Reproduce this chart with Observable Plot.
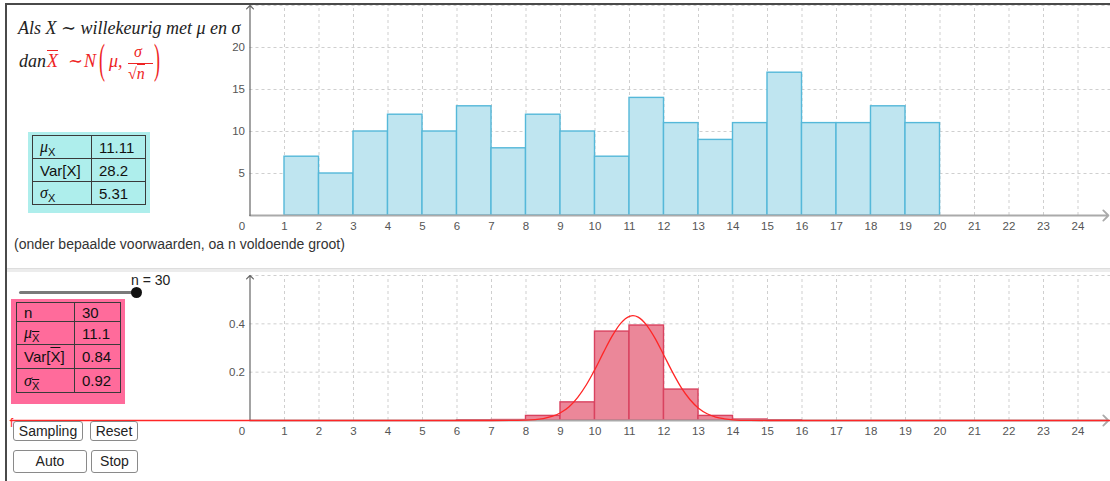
<!DOCTYPE html>
<html><head><meta charset="utf-8">
<script src="https://cdn.jsdelivr.net/npm/d3@7"></script>
<script src="https://cdn.jsdelivr.net/npm/@observablehq/plot@0.6"></script>
<style>
html,body{margin:0;padding:0;background:#fff;}
#root{position:relative;width:1110px;height:481px;overflow:hidden;background:#fff;font-family:"Liberation Sans",Arial,sans-serif;}
.abs{position:absolute;}
.plotwrap{position:absolute;left:0;}
.math{position:absolute;font-family:"Liberation Serif","DejaVu Serif",serif;font-style:italic;font-size:18px;line-height:18px;color:#222;white-space:nowrap;}
.up{font-style:normal;}
.red{color:#ee2424;}
table.st{position:absolute;border-collapse:collapse;table-layout:fixed;font-size:15px;color:#111;}
table.st td{border:1px solid #3a3a3a;padding:0 0 0 7px;white-space:nowrap;overflow:hidden;}
.mu{font-family:"Liberation Serif",serif;font-style:italic;font-size:16px;}
.sub{font-size:11px;position:relative;top:4px;}
.ov{text-decoration:overline;}
.btn{position:absolute;box-sizing:border-box;border:1px solid #8a8a8a;border-radius:3px;background:#fff;font-size:14px;color:#222;text-align:center;}
</style></head>
<body><div id="root"></div>
<script>
// ---------- data ----------
const xTickLabels = [1,2,3,4,5,6,7,8,9,10,11,12,13,14,15,16,17,18,19,20,21,22,23,24];
const topBinStart = [1,2,3,4,5,6,7,8,9,10,11,12,13,14,15,16,17,18,19];
const topCounts   = [7,5,10,12,10,13,8,12,10,7,14,11,9,11,17,11,11,13,11];
const topYTicks = [5,10,15,20];
const topYGrid  = [5,10,15,20,25];

const botBinStart = [6,7,8,9,10,11,12,13,14,15];
const botDensity  = [0.001,0.002,0.019,0.075,0.368,0.393,0.128,0.019,0.004,0.001];
const botYTicks = [0.2,0.4];
const botYGrid  = [0.2,0.4,0.6];

// normal curve (mean ≈ 11.1, sd ≈ 0.92)
const curveX = [-6.95,6,7,8,8.5,8.75,9,9.25,9.5,9.75,10,10.25,10.5,10.75,11,11.1,11.25,11.5,11.75,12,12.25,12.5,12.75,13,13.25,13.5,13.75,14,14.5,15,16,24.94];
const curveY = [0,0,0,0.0015,0.008,0.0166,0.032,0.057,0.096,0.148,0.212,0.283,0.350,0.403,0.431,0.434,0.428,0.394,0.338,0.269,0.199,0.136,0.087,0.051,0.028,0.014,0.007,0.003,0.0005,0,0,0];

const statsXLabels = ['<span class="mu">μ</span><span class="sub">X</span>','Var[X]','<span class="mu">σ</span><span class="sub">X</span>'];
const statsXValues = ["11.11","28.2","5.31"];
const statsMLabels = ['n','<span class="mu">μ</span><span class="sub ov">X</span>','Var[<span class="ov">X</span>]','<span class="mu">σ</span><span class="sub ov">X</span>'];
const statsMValues = ["30","11.1","0.84","0.92"];
const nValue = 30;
const buttonLabels = ["Sampling","Reset","Auto","Stop"];

// ---------- layout ----------
const root = document.getElementById("root");
const W = 1110;
const xDom = [-249.5/34.5, (W-249.5)/34.5];
const gridStyle = {stroke:"#cfcfcf", strokeDasharray:"3,3", strokeWidth:1};

function panel({height, yMax, yGrid, yTicks, bars, barFill, barStroke, extra, xAxisColor}) {
  return Plot.plot({
    width: W, height, marginLeft: 0, marginRight: 0, marginTop: 5, marginBottom: 25,
    x: {domain: xDom, axis: null},
    y: {domain: [0, yMax], axis: null},
    style: {background: "transparent", fontFamily: "'Liberation Sans', Arial, sans-serif", fontSize: "11.5px", color: "#555", overflow: "visible"},
    marks: [
      Plot.ruleX(xTickLabels, {x: d => d, y1: 0, y2: yMax, ...gridStyle}),
      Plot.ruleY(yGrid, {y: d => d, x1: 0, x2: xDom[1], ...gridStyle}),
      Plot.rectY(bars, {x1: "x1", x2: "x2", y1: 0, y2: "y", fill: barFill, stroke: barStroke, strokeWidth: 1.4}),
      Plot.arrow([0], {x1: 0, y1: 0, x2: xDom[1] - 0.06, y2: 0, stroke: xAxisColor, strokeWidth: 1.8, headLength: 6, headAngle: 90}),
      Plot.arrow([0], {x1: 0, y1: 0, x2: 0, y2: yMax, stroke: "#666", strokeWidth: 1.2, headLength: 6, headAngle: 90}),
      ...extra,
      Plot.text(xTickLabels, {x: d => d, y: 0, text: d => String(d), dy: 6, lineAnchor: "top", fill: "#555"}),
      Plot.text([0], {x: 0, y: 0, text: d => "0", dx: -8, dy: 6, lineAnchor: "top", fill: "#555"}),
      Plot.text(yTicks, {x: 0, y: d => d, text: d => String(d), dx: -5, textAnchor: "end", fill: "#555"})
    ]
  });
}

const topBars = topBinStart.map((s, i) => ({x1: s, x2: s + 1, y: topCounts[i]}));
const botBars = botBinStart.map((s, i) => ({x1: s, x2: s + 1, y: botDensity[i]}));
const curve = curveX.map((x, i) => ({x, y: curveY[i]}));

const topPlot = panel({height: 240, yMax: 25, yGrid: topYGrid, yTicks: topYTicks, bars: topBars,
  barFill: "#bfe5f0", barStroke: "#55b8d9", extra: [], xAxisColor: "#aaaaaa"});
const botPlot = panel({height: 175, yMax: 0.6, yGrid: botYGrid, yTicks: botYTicks, bars: botBars,
  barFill: "#eb8799", barStroke: "#d9425f", xAxisColor: "#aaaaaa",
  extra: [Plot.line(curve, {x: "x", y: "y", stroke: "#ff2626", strokeWidth: 1.3, curve: "monotone-x"})]});

const w1 = document.createElement("div"); w1.className = "plotwrap"; w1.style.top = "0px"; w1.appendChild(topPlot); root.appendChild(w1);
const w2 = document.createElement("div"); w2.className = "plotwrap"; w2.style.top = "270px"; w2.appendChild(botPlot); root.appendChild(w2);

function add(html) { root.insertAdjacentHTML("beforeend", html); }

// frame borders and separator
add('<div class="abs" style="left:5px;top:3px;width:1105px;height:2px;background:#4a4a4a"></div>');
add('<div class="abs" style="left:5px;top:3px;width:2px;height:478px;background:#4a4a4a"></div>');
add('<div class="abs" style="left:7px;top:268px;width:1103px;height:3px;background:#ececec;border-top:1px solid #dddddd"></div>');

// formula text
add('<div class="math" style="left:18px;top:19px">Als X <span class="up">∼</span> willekeurig met μ en σ</div>');
add('<div class="math" style="left:19px;top:52px">dan</div>');
add('<div class="math red ov" style="left:47px;top:52px">X</div>');
add('<div class="math red up" style="left:68px;top:52px">∼</div>');
add('<div class="math red" style="left:84px;top:52px">N</div>');
add('<div class="math red up" style="left:99px;top:52px;transform:scaleY(2.4);transform-origin:50% 60%">(</div>');
add('<div class="math red" style="left:109px;top:52px">μ,</div>');
add('<div class="math red" style="left:134px;top:44px;font-size:16px;line-height:16px">σ</div>');
add('<div class="abs" style="left:128px;top:63px;width:25px;height:1px;background:#ee2424"></div>');
add('<div class="math red" style="left:128px;top:66px;font-size:16px;line-height:16px"><span class="up">√</span><span style="border-top:1px solid #ee2424">n</span></div>');
add('<div class="math red up" style="left:154px;top:52px;transform:scaleY(2.4);transform-origin:50% 60%">)</div>');

// statistics tables
add('<div class="abs" style="left:28px;top:132px;width:122px;height:81px;background:#aeeeec"></div>');
let t1 = '<table class="st" style="left:32px;top:135px;width:113px"><colgroup><col style="width:59px"><col style="width:54px"></colgroup>';
statsXLabels.forEach((l, i) => { t1 += `<tr style="height:23px"><td>${l}</td><td>${statsXValues[i]}</td></tr>`; });
add(t1 + '</table>');

add('<div class="abs" style="left:11px;top:299px;width:114px;height:105px;background:#ff6b9b"></div>');
const rowH = [19, 23, 24, 24];
let t2 = '<table class="st" style="left:16px;top:302px;width:104px"><colgroup><col style="width:58px"><col style="width:46px"></colgroup>';
statsMLabels.forEach((l, i) => { t2 += `<tr style="height:${rowH[i]}px"><td>${l}</td><td>${statsMValues[i]}</td></tr>`; });
add(t2 + '</table>');

// caption
add('<div class="abs" style="left:14px;top:236px;font-size:14px;color:#333;white-space:nowrap">(onder bepaalde voorwaarden, oa n voldoende groot)</div>');

// slider
add('<div class="abs" style="left:19px;top:291px;width:118px;height:3px;background:#7a7a7a;border-radius:2px"></div>');
add('<div class="abs" style="left:131px;top:287px;width:11px;height:11px;background:#111;border-radius:50%"></div>');
add(`<div class="abs" style="left:131px;top:272px;font-size:14px;color:#222;white-space:nowrap">n = ${nValue}</div>`);

// function label
add('<div class="abs" style="left:10px;top:416px;font-size:12px;color:#ff2626">f</div>');

// buttons
const btnBoxes = [[13,421,70,20],[90,421,48,20],[13,450,74,23],[91,450,47,23]];
buttonLabels.forEach((b, i) => {
  const [l, t, w, h] = btnBoxes[i];
  add(`<div class="btn" style="left:${l}px;top:${t}px;width:${w}px;height:${h}px;line-height:${h-2}px">${b}</div>`);
});
</script>
</body></html>
